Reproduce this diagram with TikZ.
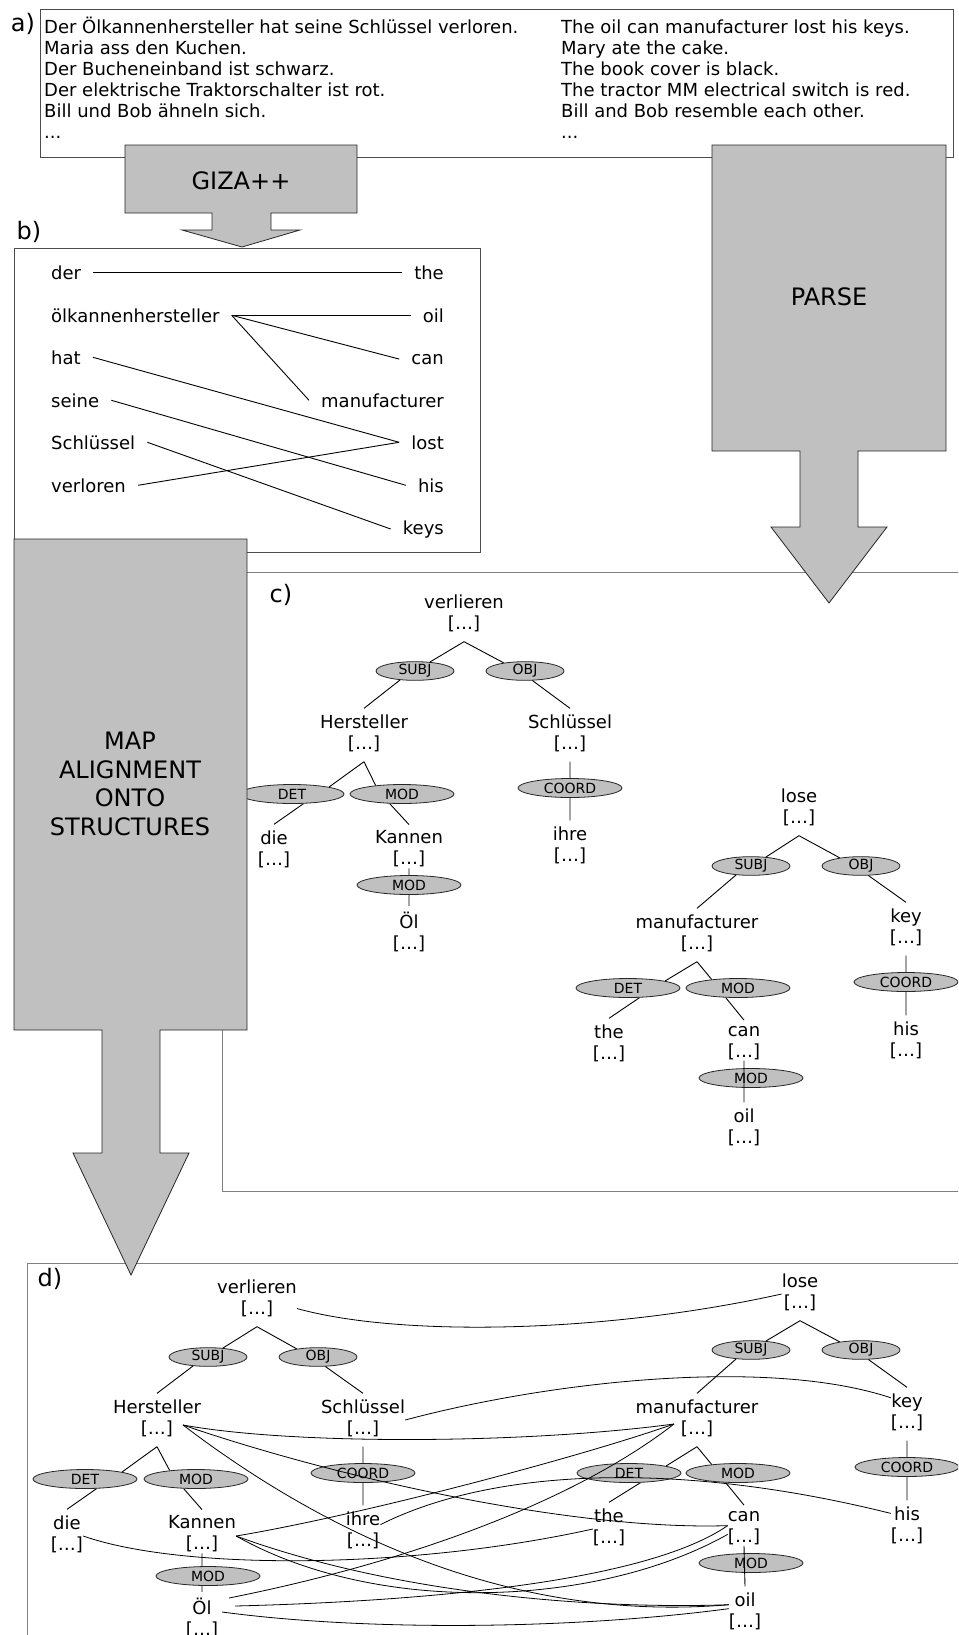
\documentclass[tikz,border=0pt]{standalone}
\usepackage{fontspec}
\setmainfont{DejaVu Sans}
\usetikzlibrary{shapes.geometric,calc}
\definecolor{grau}{RGB}{192,192,192}

\begin{document}
\begin{tikzpicture}[x=1pt, y=-1pt,
    every node/.style={font=\fontsize{18}{21}\selectfont},
    kasten/.style={draw=black!70, line width=1pt, fill=white},
    kastenhell/.style={draw=black!50, line width=1pt, fill=white},
    pfeil/.style={draw=black!85, line width=0.8pt, fill=grau},
    pfeiltext/.style={font=\fontsize{24}{28.7}\selectfont, align=center, inner sep=0pt},
    teil/.style={font=\fontsize{24}{24}\selectfont, inner sep=0pt},
    satz/.style={anchor=base west, inner sep=0pt},
    wl/.style={anchor=base west, inner xsep=12pt, inner ysep=0pt},
    wr/.style={anchor=base east, inner xsep=12pt, inner ysep=0pt},
    wort/.style={align=center, inner xsep=0pt, inner ysep=6pt,
      execute at begin node=\strut, execute at end node=\strut},
    rel/.style={ellipse, draw=black!85, line width=0.8pt, fill=grau, inner sep=0pt,
      minimum width=104pt, minimum height=19pt, font=\fontsize{14}{14}\selectfont},
    relk/.style={rel, minimum width=78pt, minimum height=18pt},
    kante/.style={draw=black, line width=0.9pt},
    link/.style={draw=black, line width=0.8pt}]

  \useasboundingbox (0,0) rectangle (958,1635);
  \clip (0,0) rectangle (958,1635);

  % Kaesten
  \draw[kasten] (40,10) rectangle (953,157);
  \draw[kasten] (14,248) rectangle (480,552);
  \draw[kastenhell] (222,572) rectangle (975,1191);
  \draw[kastenhell] (27,1263) rectangle (975,1660);

  % a) Korpus
  \node[teil] (la) at (23,24) {a)};
  \node[satz] (aDe1) at (44,34)  {Der Ölkannenhersteller hat seine Schlüssel verloren.};
  \node[satz] (aDe2) at (44,55)  {Maria ass den Kuchen.};
  \node[satz] (aDe3) at (44,76)  {Der Bucheneinband ist schwarz.};
  \node[satz] (aDe4) at (44,97)  {Der elektrische Traktorschalter ist rot.};
  \node[satz] (aDe5) at (44,118) {Bill und Bob ähneln sich.};
  \node[satz] (aDe6) at (44,139) {...};
  \node[satz] (aEn1) at (561,34)  {The oil can manufacturer lost his keys.};
  \node[satz] (aEn2) at (561,55)  {Mary ate the cake.};
  \node[satz] (aEn3) at (561,76)  {The book cover is black.};
  \node[satz] (aEn4) at (561,97)  {The tractor MM electrical switch is red.};
  \node[satz] (aEn5) at (561,118) {Bill and Bob resemble each other.};
  \node[satz] (aEn6) at (561,139) {...};

  % b) Wortalignment
  \node[teil] (lb) at (29,232) {b)};
  \node[wl] (bDer)   at (39,279) {der};
  \node[wl] (bOelk)  at (39,322) {ölkannenhersteller};
  \node[wl] (bHat)   at (39,364) {hat};
  \node[wl] (bSeine) at (39,407) {seine};
  \node[wl] (bSchl)  at (39,449) {Schlüssel};
  \node[wl] (bVerl)  at (39,492) {verloren};
  \node[wr] (bThe)   at (456,279) {the};
  \node[wr] (bOil)   at (456,322) {oil};
  \node[wr] (bCan)   at (456,364) {can};
  \node[wr] (bManu)  at (456,407) {manufacturer};
  \node[wr] (bLost)  at (456,449) {lost};
  \node[wr] (bHis)   at (456,492) {his};
  \node[wr] (bKeys)  at (456,534) {keys};
  \draw[kante] (bDer.east) -- (bThe.west);
  \draw[kante] (bOelk.east) -- (bOil.west);
  \draw[kante] (bOelk.east) -- (bCan.west);
  \draw[kante] (bOelk.east) -- (bManu.west);
  \draw[kante] (bHat.east) -- (bLost.west);
  \draw[kante] (bSeine.east) -- (bHis.west);
  \draw[kante] (bSchl.east) -- (bKeys.west);
  \draw[kante] (bVerl.east) -- (bLost.west);

  % c) Strukturen
  \node[teil] (lc) at (281,595) {c)};
  \node[wort] (cV)    at (464,615) {verlieren\\{}[…]};
  \node[relk] (cSubj) at (415,671) {SUBJ};
  \node[relk] (cObj)  at (525,671) {OBJ};
  \node[wort] (cH)    at (364,735) {Hersteller\\{}[…]};
  \node[wort] (cS)    at (570,735) {Schlüssel\\{}[…]};
  \node[rel]  (cDet)  at (292,794) {DET};
  \node[rel]  (cMod)  at (402,794) {MOD};
  \node[rel]  (cCoord) at (570,788) {COORD};
  \node[wort] (cDie)  at (274,851) {die\\{}[…]};
  \node[wort] (cK)    at (409,851) {Kannen\\{}[…]};
  \node[wort] (cIhre) at (570,847) {ihre\\{}[…]};
  \node[rel]  (cMod2) at (409,885) {MOD};
  \node[wort] (cOel)  at (409,934) {Öl\\{}[…]};
  \draw[kante] (cV.south) -- (cSubj.31) (cSubj.211) -- (cH.north)
    (cV.south) -- (cObj.159) (cObj.-52) -- (cS.north)
    (cH.south) -- (cDet.north east) (cDet.-40) -- (cDie.north)
    (cH.south) -- (cMod.162) (cMod.218) -- (cK.north)
    (cS.south) -- (cCoord.north) (cCoord.south) -- (cIhre.north)
    ($(cK.south)+(0,-9)$) -- (cK.south |- cMod2.north)
    (cOel.north |- cMod2.south) -- (cOel.north);

  \node[wort] (cLose)  at (799,809) {lose\\{}[…]};
  \node[relk] (cSubjE) at (751,866) {SUBJ};
  \node[relk] (cObjE)  at (861,866) {OBJ};
  \node[wort] (cMan)   at (697,935) {manufacturer\\{}[…]};
  \node[wort] (cKey)   at (906,929) {key\\{}[…]};
  \node[rel]  (cDetE)  at (628,988) {DET};
  \node[rel]  (cModE)  at (738,988) {MOD};
  \node[rel]  (cCoordE) at (906,982) {COORD};
  \node[wort] (cThe)   at (609,1045) {the\\{}[…]};
  \node[wort] (cCan)   at (744,1045) {can\\{}[…]};
  \node[wort] (cHis)   at (906,1042) {his\\{}[…]};
  \node[rel]  (cModE2) at (751,1078) {MOD};
  \node[wort] (cOil)   at (744,1129) {oil\\{}[…]};
  \draw[kante] (cLose.south) -- (cSubjE.31) (cSubjE.211) -- (cMan.north)
    (cLose.south) -- (cObjE.159) (cObjE.-52) -- (cKey.north)
    (cMan.south) -- (cDetE.north east) (cDetE.-40) -- (cThe.north)
    (cMan.south) -- (cModE.162) (cModE.218) -- (cCan.north)
    (cKey.south) -- (cCoordE.north) (cCoordE.south) -- (cHis.north)
    ($(cCan.south)+(0,-9)$) -- (cOil.north);

  % d) Alignment auf Strukturen
  \node[teil] (ld) at (50,1279) {d)};
  \node[wort] (dV)    at (257,1300) {verlieren\\{}[…]};
  \node[relk] (dSubj) at (208,1357) {SUBJ};
  \node[relk] (dObj)  at (318,1357) {OBJ};
  \node[wort] (dH)    at (157,1420) {Hersteller\\{}[…]};
  \node[wort] (dS)    at (363,1420) {Schlüssel\\{}[…]};
  \node[rel]  (dDet)  at (85,1479) {DET};
  \node[rel]  (dMod)  at (196,1479) {MOD};
  \node[rel]  (dCoord) at (363,1473) {COORD};
  \node[wort] (dDie)  at (67,1536) {die\\{}[…]};
  \node[wort] (dK)    at (202,1536) {Kannen\\{}[…]};
  \node[wort] (dIhre) at (363,1532) {ihre\\{}[…]};
  \node[rel]  (dMod2) at (208,1576) {MOD};
  \node[wort] (dOel)  at (202,1620) {Öl\\{}[…]};
  \draw[kante] (dV.south) -- (dSubj.31) (dSubj.211) -- (dH.north)
    (dV.south) -- (dObj.159) (dObj.-52) -- (dS.north)
    (dH.south) -- (dDet.north east) (dDet.-40) -- (dDie.north)
    (dH.south) -- (dMod.162) (dMod.218) -- (dK.north)
    (dS.south) -- (dCoord.north) (dCoord.south) -- (dIhre.north)
    ($(dK.south)+(0,-9)$) -- (dK.south |- dMod2.north)
    (dOel.north |- dMod2.south) -- (dOel.north);

  \node[wort] (dLose)  at (800,1294) {lose\\{}[…]};
  \node[relk] (dSubjE) at (751,1350) {SUBJ};
  \node[relk] (dObjE)  at (861,1350) {OBJ};
  \node[wort] (dMan)   at (697,1420) {manufacturer\\{}[…]};
  \node[wort] (dKey)   at (907,1414) {key\\{}[…]};
  \node[rel]  (dDetE)  at (629,1473) {DET};
  \node[rel]  (dModE)  at (738,1473) {MOD};
  \node[rel]  (dCoordE) at (907,1467) {COORD};
  \node[wort] (dThe)   at (609,1529) {the\\{}[…]};
  \node[wort] (dCan)   at (744,1530) {can\\{}[…]};
  \node[wort] (dHis)   at (907,1527) {his\\{}[…]};
  \node[rel]  (dModE2) at (751,1563) {MOD};
  \node[wort] (dOil)   at (745,1613) {oil\\{}[…]};
  \draw[kante] (dLose.south) -- (dSubjE.31) (dSubjE.211) -- (dMan.north)
    (dLose.south) -- (dObjE.159) (dObjE.-52) -- (dKey.north)
    (dMan.south) -- (dDetE.north east) (dDetE.-40) -- (dThe.north)
    (dMan.south) -- (dModE.162) (dModE.218) -- (dCan.north)
    (dKey.south) -- (dCoordE.north) (dCoordE.south) -- (dHis.north)
    ($(dCan.south)+(0,-9)$) -- (dOil.north);

  % Alignment-Kanten zwischen den Baeumen
  \draw[link] (dV.-12) .. controls +(100,28) and +(-180,40) .. (dLose.west);
  \draw[link] (dS.east) .. controls +(150,-40) and +(-120,-40) .. (dKey.135);
  \draw[link] ($(dH)+(26,5)$) .. controls +(110,20) and +(-150,20) .. ($(dMan)+(-23,4)$);
  \draw[link] ($(dH)+(26,5)$) .. controls +(160,55) and +(-150,5) .. (dCan.165);
  \draw[link] ($(dH)+(26,5)$) .. controls +(230,175) and +(-120,10) .. (dOil.153);
  \draw[link] (dK.east) .. controls +(120,-20) and +(-100,35) .. ($(dMan)+(-23,4)$);
  \draw[link] (dK.east) .. controls +(144,81) and +(-128,72) .. (dCan.195);
  \draw[link] (dK.east) .. controls +(150,55) and +(-150,5) .. (dOil.153);
  \draw[link] ($(dOel)+(27,-22)$) .. controls +(200,-40) and +(-90,70) .. ($(dMan)+(-23,4)$);
  \draw[link] ($(dOel)+(33,-14)$) .. controls +(200,-5) and +(-80,55) .. (dCan.165);
  \draw[link] ($(dOel)+(20,-8)$) .. controls +(150,20) and +(-150,20) .. (dOil.165);
  \draw[link] (dDie.east) .. controls +(100,35) and +(-180,40) .. (dThe.west);
  \draw[link] (dIhre.23) .. controls +(120,-60) and +(-200,-50) .. (dHis.140);

  % Pfeile
  \draw[pfeil] (125,145) -- (357,145) -- (357,213) -- (271,213) -- (271,230) -- (300,230)
    -- (242,247) -- (182,230) -- (212,230) -- (212,213) -- (125,213) -- cycle;
  \node[pfeiltext] (giza) at (241,181) {GIZA++};
  \draw[pfeil] (712,145) -- (946,145) -- (946,451) -- (858,451) -- (858,527) -- (887,527)
    -- (829,603) -- (771,527) -- (800,527) -- (800,451) -- (712,451) -- cycle;
  \node[pfeiltext] (parse) at (829,297) {PARSE};
  \draw[pfeil] (14,539) -- (247,539) -- (247,1030) -- (160,1030) -- (160,1153) -- (189,1153)
    -- (131,1275) -- (73,1153) -- (102,1153) -- (102,1030) -- (14,1030) -- cycle;
  \node[pfeiltext] (map) at (130,784) {MAP\\ALIGNMENT\\ONTO\\STRUCTURES};
\end{tikzpicture}
\end{document}
